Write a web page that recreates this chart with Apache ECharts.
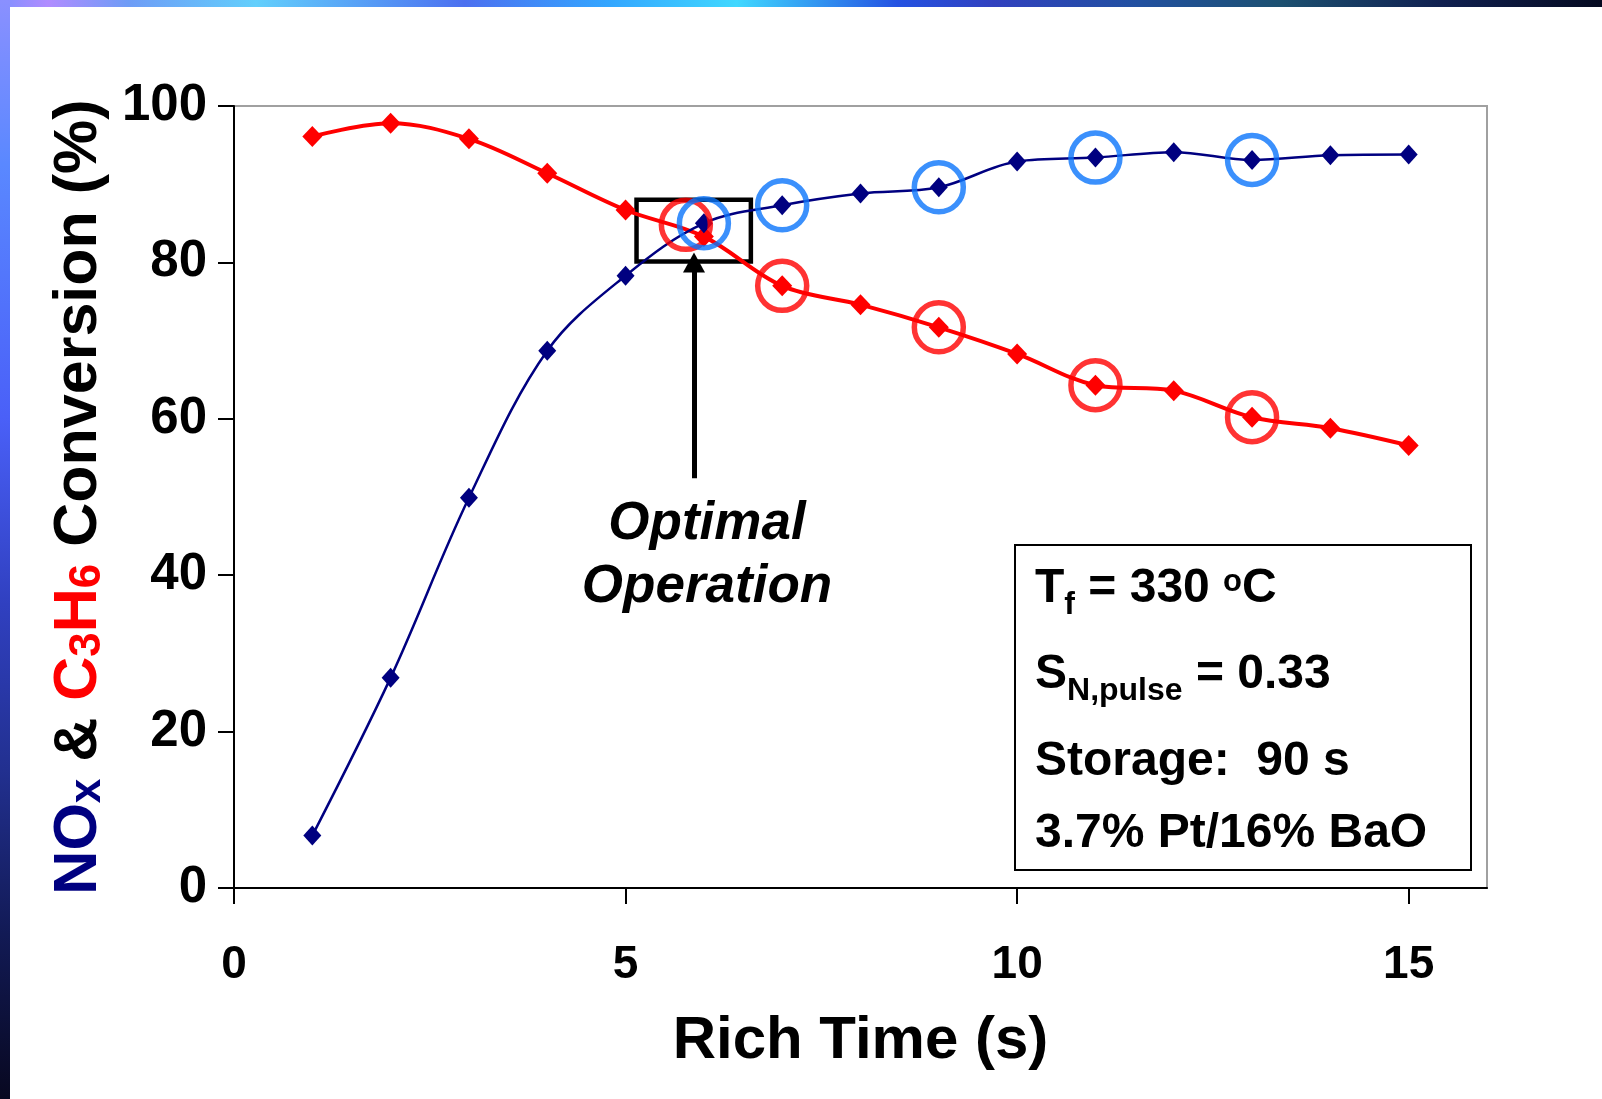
<!DOCTYPE html>
<html>
<head>
<meta charset="utf-8">
<script src="https://cdn.jsdelivr.net/npm/echarts@6/dist/echarts.min.js"></script>
<style>
  html, body { margin: 0; padding: 0; background: #fff; }
  #chart { width: 1602px; height: 1099px; }
</style>
</head>
<body>
<div id="chart"></div>
<script>
// ---- data ----
const richTime = [1, 2, 3, 4, 5, 6, 7, 8, 9, 10, 11, 12, 13, 14, 15];
const noxConversion = [6.7, 26.9, 49.9, 68.7, 78.3, 85.0, 87.3, 88.8, 89.6, 92.9, 93.4, 94.1, 93.1, 93.7, 93.8];
const c3h6Conversion = [96.1, 97.8, 95.8, 91.4, 86.7, 83.3, 77.0, 74.6, 71.7, 68.3, 64.3, 63.6, 60.2, 58.8, 56.6];
const xTickValues = [0, 5, 10, 15];
const blueCircleTimes = [6, 7, 9, 11, 13];
const redCircles = [[5.77, 84.8], [7, 77.0], [9, 71.7], [11, 64.3], [13, 60.2]];
const optimalBox = [[5.14, 88.0], [6.6, 80.1]];
const optimalArrow = [[5.874, 52.4], [5.874, 80.0]];
const annotationLines = ['T = 330 oC', 'S = 0.33', 'Storage:  90 s', '3.7% Pt/16% BaO'];

const FONT = '"Liberation Sans", Arial, sans-serif';
const noxPoints = richTime.map((t, i) => [t, noxConversion[i]]);
const c3h6Points = richTime.map((t, i) => [t, c3h6Conversion[i]]);
const blueCircles = blueCircleTimes.map(t => [t, noxConversion[richTime.indexOf(t)]]);

const chart = echarts.init(document.getElementById('chart'), null, { renderer: 'canvas' });

const option = {
  animation: false,
  backgroundColor: '#ffffff',
  textStyle: { fontFamily: FONT },
  grid: {
    left: 234, top: 106, width: 1253, height: 782,
    show: true, borderColor: '#a0a0a0', borderWidth: 2, backgroundColor: '#ffffff'
  },
  xAxis: {
    type: 'value', min: 0, max: 16, interval: 5,
    name: 'Rich Time (s)', nameLocation: 'middle', nameGap: 123,
    nameTextStyle: { fontSize: 60, fontWeight: 'bold', color: '#000', fontFamily: FONT },
    axisLine: { show: true, onZero: false, lineStyle: { color: '#000', width: 2 } },
    axisTick: { show: true, inside: false, length: 16, customValues: xTickValues, lineStyle: { color: '#000', width: 2 } },
    axisLabel: { customValues: xTickValues, margin: 54, fontSize: 46, fontWeight: 'bold', color: '#000', fontFamily: FONT },
    splitLine: { show: false }
  },
  yAxis: {
    type: 'value', min: 0, max: 100, interval: 20,
    name: '{nav|NO}{navs|x}{blk| & }{red|C}{reds|3}{red|H}{reds|6}{blk| Conversion (%)}',
    nameLocation: 'middle', nameGap: 124, nameRotate: 90,
    nameTextStyle: {
      fontSize: 61, fontWeight: 'bold', color: '#000', fontFamily: FONT,
      rich: {
        nav: { fontSize: 61, fontWeight: 'bold', color: '#000080', lineHeight: 65, verticalAlign: 'bottom', fontFamily: FONT },
        navs: { fontSize: 44, fontWeight: 'bold', color: '#000080', lineHeight: 46, verticalAlign: 'bottom', fontFamily: FONT },
        blk: { fontSize: 61, fontWeight: 'bold', color: '#000', lineHeight: 65, verticalAlign: 'bottom', fontFamily: FONT },
        red: { fontSize: 61, fontWeight: 'bold', color: '#ff0000', lineHeight: 65, verticalAlign: 'bottom', fontFamily: FONT },
        reds: { fontSize: 44, fontWeight: 'bold', color: '#ff0000', lineHeight: 46, verticalAlign: 'bottom', fontFamily: FONT }
      }
    },
    axisLine: { show: true, lineStyle: { color: '#000', width: 2 } },
    axisTick: { show: true, inside: false, length: 16, lineStyle: { color: '#000', width: 2 } },
    axisLabel: { margin: 27, fontSize: 51, fontWeight: 'bold', color: '#000', fontFamily: FONT },
    splitLine: { show: false }
  },
  series: [
    {
      name: 'C3H6', type: 'line', data: c3h6Points, smooth: 0.35,
      symbol: 'diamond', symbolSize: [20, 21], showSymbol: true,
      lineStyle: { color: '#ff0000', width: 4 },
      itemStyle: { color: '#ff0000' },
      emphasis: { disabled: true }, z: 3
    },
    {
      name: 'NOx', type: 'line', data: noxPoints, smooth: 0.35,
      symbol: 'diamond', symbolSize: [18, 20], showSymbol: true,
      lineStyle: { color: '#000080', width: 2.5 },
      itemStyle: { color: '#000080' },
      emphasis: { disabled: true }, z: 4
    },
    {
      name: 'redCircles', type: 'scatter', data: redCircles,
      symbol: 'circle', symbolSize: 49,
      itemStyle: { color: 'rgba(0,0,0,0)', borderColor: '#ff0000', borderWidth: 5.5 },
      emphasis: { disabled: true }, z: 5
    },
    {
      name: 'blueCircles', type: 'scatter', data: blueCircles,
      symbol: 'circle', symbolSize: 49,
      itemStyle: { color: 'rgba(0,0,0,0)', borderColor: '#0a74fb', borderWidth: 5.5 },
      emphasis: { disabled: true }, z: 6
    },
    {
      name: 'annotation', type: 'line', data: [], z: 7,
      markArea: {
        silent: true,
        itemStyle: { color: 'rgba(0,0,0,0)', borderColor: '#000', borderWidth: 4.5 },
        label: { show: false },
        data: [[{ coord: optimalBox[0] }, { coord: optimalBox[1] }]]
      },
      markLine: {
        silent: true,
        symbol: ['none', 'triangle'], symbolSize: [22, 20],
        lineStyle: { color: '#000', width: 5, type: 'solid' },
        label: { show: false },
        data: [[{ coord: optimalArrow[0] }, { coord: optimalArrow[1] }]]
      }
    }
  ],
  graphic: [
    {
      type: 'rect', shape: { x: 0, y: 0, width: 1602, height: 7 }, z: 100,
      style: {
        fill: {
          type: 'linear', x: 0, y: 0, x2: 1, y2: 0,
          colorStops: [
            { offset: 0.0, color: '#8090ff' }, { offset: 0.03, color: '#b08cff' },
            { offset: 0.08, color: '#6e9cf6' }, { offset: 0.16, color: '#62cffc' },
            { offset: 0.29, color: '#4c70f0' }, { offset: 0.38, color: '#33a6ff' },
            { offset: 0.46, color: '#40d8ff' }, { offset: 0.56, color: '#2452e2' },
            { offset: 0.62, color: '#3141bf' }, { offset: 0.71, color: '#2150a0' },
            { offset: 0.80, color: '#1c5070' }, { offset: 0.90, color: '#102050' },
            { offset: 1.0, color: '#050a20' }
          ]
        }
      }
    },
    {
      type: 'rect', shape: { x: 0, y: 0, width: 10, height: 1099 }, z: 100,
      style: {
        fill: {
          type: 'linear', x: 0, y: 0, x2: 0, y2: 1,
          colorStops: [
            { offset: 0.0, color: '#8a90ff' }, { offset: 0.15, color: '#5a88ff' },
            { offset: 0.38, color: '#4a60f8' }, { offset: 0.55, color: '#3040c0' },
            { offset: 0.70, color: '#223090' }, { offset: 0.85, color: '#121a55' },
            { offset: 1.0, color: '#080820' }
          ]
        }
      }
    },
    {
      type: 'text', x: 707, y: 556, z: 50,
      style: {
        text: 'Optimal\nOperation', fill: '#000',
        font: 'italic bold 53px ' + FONT, lineHeight: 63,
        align: 'center', verticalAlign: 'middle'
      }
    },
    {
      type: 'rect', shape: { x: 1015, y: 545, width: 456, height: 325 }, z: 50,
      style: { fill: '#fff', stroke: '#000', lineWidth: 2 }
    },
    {
      type: 'text', x: 1035, y: 565, z: 51,
      style: {
        text: '{m|T}{s|f}{m| = 330 }{p|o}{m|C}',
        rich: {
          m: { font: 'bold 48px ' + FONT, fill: '#000', lineHeight: 50, verticalAlign: 'top' },
          s: { font: 'bold 32px ' + FONT, fill: '#000', lineHeight: 32, verticalAlign: 'top', padding: [24, 0, 0, 0] },
          p: { font: 'bold 31px ' + FONT, fill: '#000', lineHeight: 30, verticalAlign: 'top', padding: [2, 0, 0, 0] }
        }
      }
    },
    {
      type: 'text', x: 1035, y: 651, z: 51,
      style: {
        text: '{m|S}{s|N,pulse}{m| = 0.33}',
        rich: {
          m: { font: 'bold 48px ' + FONT, fill: '#000', lineHeight: 50, verticalAlign: 'top' },
          s: { font: 'bold 32px ' + FONT, fill: '#000', lineHeight: 32, verticalAlign: 'top', padding: [24, 0, 0, 0] }
        }
      }
    },
    {
      type: 'text', x: 1035, y: 737, z: 51,
      style: { text: annotationLines[2], font: 'bold 48px ' + FONT, fill: '#000', lineHeight: 50, verticalAlign: 'top' }
    },
    {
      type: 'text', x: 1035, y: 809, z: 51,
      style: { text: annotationLines[3], font: 'bold 48px ' + FONT, fill: '#000', lineHeight: 50, verticalAlign: 'top' }
    }
  ]
};

chart.setOption(option);
</script>
</body>
</html>
